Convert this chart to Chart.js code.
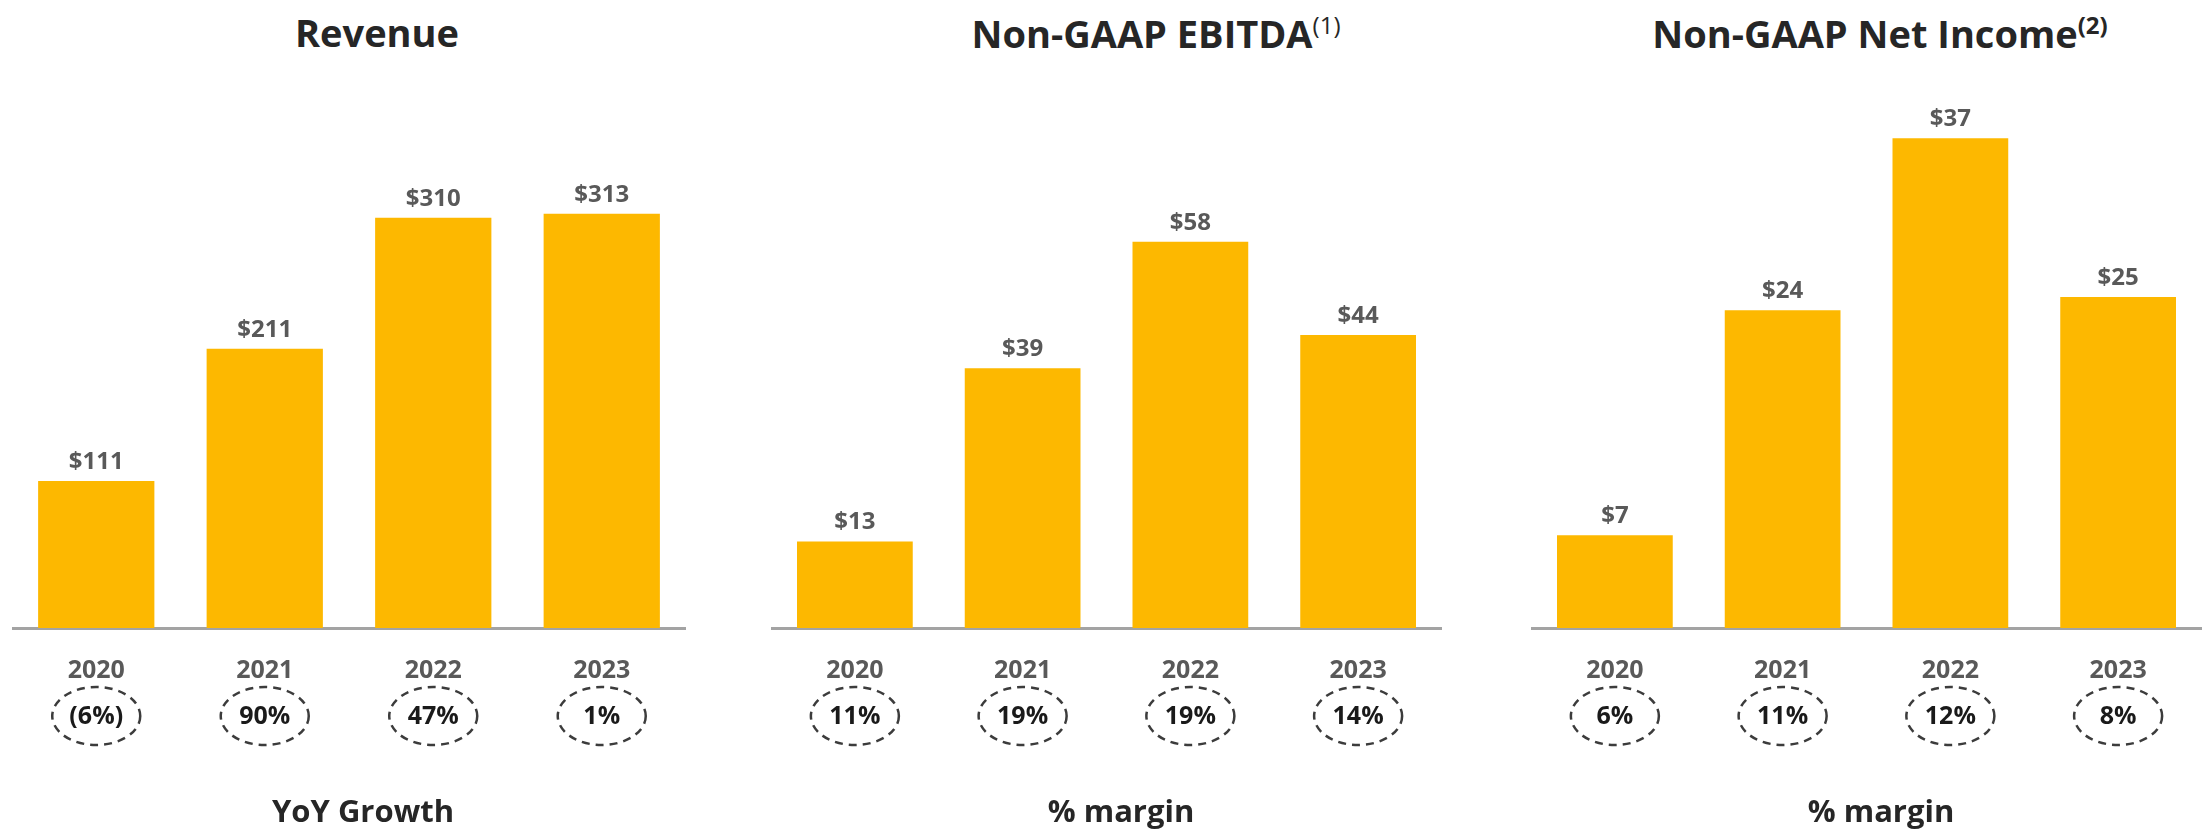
<!DOCTYPE html>
<html lang="en">
<head>
<meta charset="UTF-8">
<title>Revenue, EBITDA and Net Income</title>
<script src="https://cdn.jsdelivr.net/npm/chart.js"></script>
<style>
    body {
        margin: 0;
        background: #ffffff;
        font-family: "Open Sans", Arial, sans-serif;
    }
    #page {
        position: relative;
        width: 2206px;
        height: 830px;
        overflow: hidden;
    }
    .title, .caption {
        position: absolute;
        transform: translateX(-50%);
        white-space: nowrap;
        font-weight: 700;
        color: #262626;
        line-height: 1;
    }
    .title { font-size: 38px; top: 13px; }
    .caption { font-size: 31px; top: 795px; }
    .sup { font-size: 24px; vertical-align: 14px; }
    .sup.light { font-weight: 400; }
    canvas { position: absolute; top: 80px; }
</style>
</head>
<body>
<div id="page">
    <div class="title" style="left:377px">Revenue</div>
    <div class="title" style="left:1156px">Non-GAAP EBITDA<span class="sup light">(1)</span></div>
    <div class="title" style="left:1880px">Non-GAAP Net Income<span class="sup">(2)</span></div>

    <canvas id="revenue" width="674" height="750" style="left:12px"></canvas>
    <canvas id="ebitda" width="671" height="750" style="left:771px"></canvas>
    <canvas id="netIncome" width="671" height="750" style="left:1531px"></canvas>

    <div class="caption" style="left:363px">YoY Growth</div>
    <div class="caption" style="left:1121px">% margin</div>
    <div class="caption" style="left:1881px">% margin</div>
</div>

<script>
    // data ($M)
    const years = ['2020', '2021', '2022', '2023'];
    const revenue = [111, 211, 310, 313];
    const ebitda = [13, 39, 58, 44];
    const netIncome = [7, 24, 37, 25];

    // circled notes under each year
    const yoyGrowth = ['(6%)', '90%', '47%', '1%'];
    const ebitdaMargin = ['11%', '19%', '19%', '14%'];
    const netIncomeMargin = ['6%', '11%', '12%', '8%'];

    const FONT = '"Open Sans", Arial, sans-serif';
    const BAR_COLOR = '#FDB800';

    function makeChart(id, values, notes, yMax) {
        // value labels above bars + dashed ovals with the notes
        const labels = {
            id: 'labels_' + id,
            afterDatasetsDraw(chart) {
                const ctx = chart.ctx;
                const meta = chart.getDatasetMeta(0);
                const xScale = chart.scales.x;
                ctx.save();
                ctx.textAlign = 'center';
                ctx.font = 'bold 24px ' + FONT;
                ctx.fillStyle = '#595959';
                ctx.textBaseline = 'alphabetic';
                meta.data.forEach((bar, i) => {
                    ctx.fillText('$' + values[i], bar.x, bar.y - 12);
                });

                const cy = chart.chartArea.bottom + 88;
                ctx.font = 'bold 25px ' + FONT;
                notes.forEach((t, i) => {
                    const cx = xScale.getPixelForValue(i);
                    ctx.beginPath();
                    ctx.setLineDash([8, 6]);
                    ctx.lineWidth = 2.5;
                    ctx.strokeStyle = '#3c3c3c';
                    ctx.ellipse(cx, cy, 44, 29, 0, 0, Math.PI * 2);
                    ctx.stroke();
                    ctx.setLineDash([]);
                    ctx.fillStyle = '#1a1a1a';
                    ctx.textBaseline = 'middle';
                    ctx.fillText(t, cx, cy + 1);
                });
                ctx.restore();
            }
        };

        return new Chart(document.getElementById(id), {
            type: 'bar',
            data: {
                labels: years,
                datasets: [{
                    data: values,
                    backgroundColor: BAR_COLOR,
                    barPercentage: 0.69,
                    categoryPercentage: 1
                }]
            },
            options: {
                responsive: false,
                animation: false,
                events: [],
                layout: { padding: 0 },
                plugins: {
                    legend: { display: false },
                    tooltip: { enabled: false }
                },
                scales: {
                    x: {
                        grid: { display: false, drawTicks: false },
                        border: { display: true, color: '#A3A3A3', width: 3 },
                        ticks: {
                            color: '#595959',
                            font: { family: FONT, size: 25, weight: 'bold' },
                            padding: 28
                        },
                        afterFit(scale) { scale.height = 202; }
                    },
                    y: {
                        display: false,
                        min: 0,
                        max: yMax
                    }
                }
            },
            plugins: [labels]
        });
    }

    makeChart('revenue', revenue, yoyGrowth, 414);
    makeChart('ebitda', ebitda, ebitdaMargin, 82.3);
    makeChart('netIncome', netIncome, netIncomeMargin, 41.4);
</script>
</body>
</html>
